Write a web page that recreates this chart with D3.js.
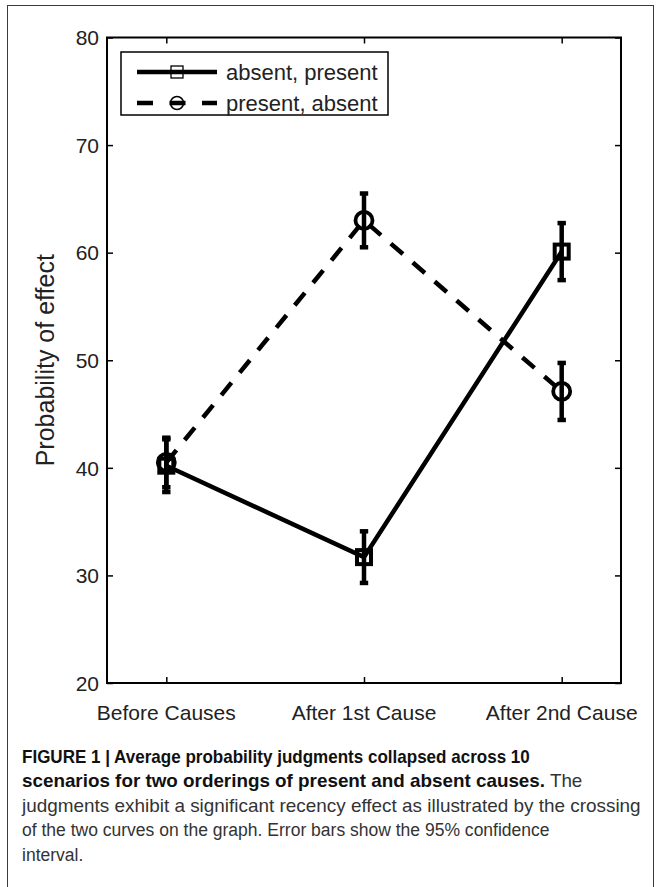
<!DOCTYPE html>
<html>
<head>
<meta charset="utf-8">
<script src="https://cdn.jsdelivr.net/npm/d3@7"></script>
<style>
  html, body { margin: 0; padding: 0; background: #fff; }
  svg { display: block; }
</style>
</head>
<body>
<svg id="chart" width="660" height="887"></svg>
<script>
// ---- data ----
const categories = ["Before Causes", "After 1st Cause", "After 2nd Cause"];
const absentPresent = [40.2, 31.7, 60.1];
const absentPresentErr = [2.45, 2.4, 2.65];
const presentAbsent = [40.5, 63.0, 47.1];
const presentAbsentErr = [2.3, 2.5, 2.65];
const yTicks = [20, 30, 40, 50, 60, 70, 80];
const seriesNames = ["absent, present", "present, absent"];
const yLabel = "Probability of effect";
const captionLines = [
  [{t: "FIGURE 1 | Average probability judgments collapsed across 10", b: true}],
  [{t: "scenarios for two orderings of present and absent causes.", b: true}, {t: " The", b: false}],
  [{t: "judgments exhibit a significant recency effect as illustrated by the crossing", b: false}],
  [{t: "of the two curves on the graph. Error bars show the 95% confidence", b: false}],
  [{t: "interval.", b: false}]
];

// ---- layout ----
const svg = d3.select("#chart");
const L = 107, R = 621, T = 37.5, B = 683;
const x = d3.scaleLinear().domain([0.7, 3.3]).range([L, R]);
const y = d3.scaleLinear().domain([20, 80]).range([B, T]);
const font = "'Liberation Sans', Arial, Helvetica, sans-serif";
const ink = "#000";

// outer figure frame
svg.append("rect").attr("x", 7.5).attr("y", 5.5).attr("width", 646).attr("height", 920)
  .attr("fill", "none").attr("stroke", "#3a3a3a").attr("stroke-width", 1);

// axes (box with inward ticks)
const g = svg.append("g");
const xIdx = categories.map((c, i) => i + 1);

const axB = d3.axisBottom(x).tickValues(xIdx).tickSize(-6).tickFormat("");
const axT = d3.axisTop(x).tickValues(xIdx).tickSize(-6).tickFormat("");
const axL = d3.axisLeft(y).tickValues(yTicks).tickSize(-6).tickFormat("");
const axR = d3.axisRight(y).tickValues(yTicks).tickSize(-6).tickFormat("");
g.append("g").attr("transform", `translate(0,${B})`).call(axB);
g.append("g").attr("transform", `translate(0,${T})`).call(axT);
g.append("g").attr("transform", `translate(${L},0)`).call(axL);
g.append("g").attr("transform", `translate(${R},0)`).call(axR);
g.selectAll(".domain").remove();
g.selectAll(".tick line").attr("stroke", ink).attr("stroke-width", 1.5);
g.append("rect").attr("x", L).attr("y", T).attr("width", R - L).attr("height", B - T)
  .attr("fill", "none").attr("stroke", ink).attr("stroke-width", 2);

// tick labels
g.selectAll(".ylab").data(yTicks).join("text")
  .attr("x", L - 8).attr("y", d => y(d) + 7.8)
  .attr("text-anchor", "end").attr("font-family", font).attr("font-size", 21)
  .attr("fill", "#222").text(d => d);
g.selectAll(".xlab").data(categories).join("text")
  .attr("x", (d, i) => x(i + 1)).attr("y", 720)
  .attr("text-anchor", "middle").attr("font-family", font).attr("font-size", 21)
  .attr("fill", "#222").text(d => d);

// y axis label
svg.append("text").attr("transform", `translate(54,${(T + B) / 2}) rotate(-90)`)
  .attr("text-anchor", "middle").attr("font-family", font).attr("font-size", 25)
  .attr("fill", "#222").text(yLabel);

// series
const lw = 4.5;
const series = [
  {vals: absentPresent, err: absentPresentErr, dash: null, marker: "square"},
  {vals: presentAbsent, err: presentAbsentErr, dash: "16,13", marker: "circle"}
];
const line = d3.line().x((d, i) => x(i + 1)).y(d => y(d));

series.forEach(s => {
  const sg = svg.append("g");
  sg.append("path").datum(s.vals).attr("d", line).attr("fill", "none")
    .attr("stroke", ink).attr("stroke-width", lw)
    .attr("stroke-dasharray", s.dash);
  s.vals.forEach((v, i) => {
    const cx = x(i + 1);
    sg.append("line").attr("x1", cx).attr("x2", cx)
      .attr("y1", y(v - s.err[i])).attr("y2", y(v + s.err[i]))
      .attr("stroke", ink).attr("stroke-width", 4.5);
    [v - s.err[i], v + s.err[i]].forEach(e => {
      sg.append("line").attr("x1", cx - 4.2).attr("x2", cx + 4.2)
        .attr("y1", y(e)).attr("y2", y(e))
        .attr("stroke", ink).attr("stroke-width", 4.5);
    });
  });
  s.vals.forEach((v, i) => {
    const cx = x(i + 1), cy = y(v);
    if (s.marker === "square") {
      sg.append("rect").attr("x", cx - 7).attr("y", cy - 7).attr("width", 14).attr("height", 14)
        .attr("fill", "none").attr("stroke", ink).attr("stroke-width", 4);
    } else {
      sg.append("circle").attr("cx", cx).attr("cy", cy).attr("r", 8.5)
        .attr("fill", "none").attr("stroke", ink).attr("stroke-width", 3.8);
    }
  });
});

// legend
const lg = svg.append("g");
lg.append("rect").attr("x", 121).attr("y", 52).attr("width", 267).attr("height", 63)
  .attr("fill", "#fff").attr("stroke", ink).attr("stroke-width", 1.5);
const rows = [72, 103];
series.forEach((s, k) => {
  const ry = rows[k];
  lg.append("line").attr("x1", 137).attr("x2", 217).attr("y1", ry).attr("y2", ry)
    .attr("stroke", ink).attr("stroke-width", 4.5)
    .attr("stroke-dasharray", s.dash ? "16,16.5" : null);
  if (s.marker === "square") {
    lg.append("rect").attr("x", 171).attr("y", ry - 6).attr("width", 12).attr("height", 12)
      .attr("fill", "none").attr("stroke", ink).attr("stroke-width", 1.3);
  } else {
    lg.append("circle").attr("cx", 177).attr("cy", ry).attr("r", 6.5)
      .attr("fill", "none").attr("stroke", ink).attr("stroke-width", 1.5);
  }
  lg.append("text").attr("x", 226).attr("y", ry + 7.5).attr("font-family", font)
    .attr("font-size", 22).attr("fill", "#222").text(seriesNames[k]);
});

// caption: Liberation Sans, each line condensed horizontally to the reference's line width
const cap = svg.append("g");
const baselines = [763, 787.5, 812, 836.5, 861];
const lineWidths = [508, 561, 619, 528, 0];
const capFs = 18;
let lastScale = 1;
captionLines.forEach((parts, i) => {
  const lgp = cap.append("g");
  const t = lgp.append("text").attr("x", 0).attr("y", baselines[i])
    .attr("font-family", font).attr("font-size", capFs);
  parts.forEach(p => {
    t.append("tspan").attr("font-weight", p.b ? "bold" : "normal")
      .attr("fill", p.b ? "#111" : "#333").text(p.t);
  });
  const w = t.node().getComputedTextLength();
  const s = lineWidths[i] ? lineWidths[i] / w : lastScale;
  lastScale = s;
  lgp.attr("transform", `translate(22,0) scale(${s},1)`);
});
</script>
</body>
</html>
